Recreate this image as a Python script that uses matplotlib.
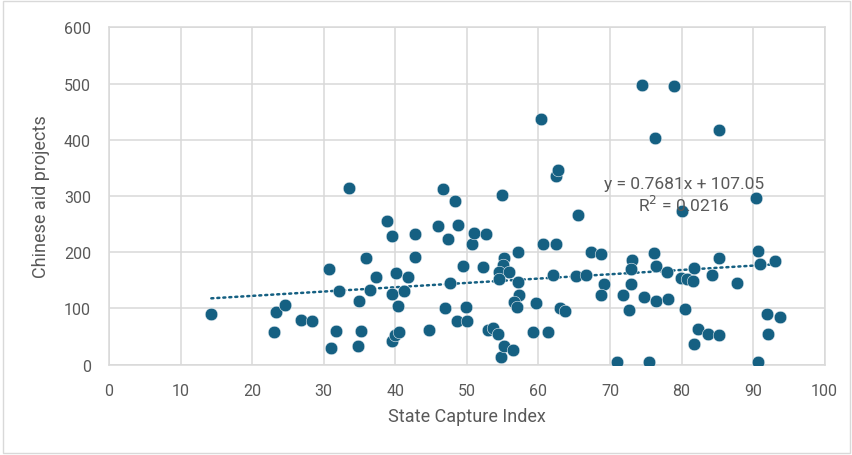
import matplotlib.pyplot as plt
from matplotlib.patches import Rectangle
import numpy as np

# State Capture Index vs number of Chinese aid projects
capture_index = [
    14.3, 23.0, 23.4, 24.6, 26.8, 28.4, 30.8, 31.0, 31.7, 32.2, 33.6, 34.8, 35.0, 35.2,
    35.9, 36.4, 37.3, 38.8, 39.6, 39.6, 40.0, 40.5, 39.5, 40.1, 40.4, 41.2, 41.8, 42.7,
    42.8, 44.7, 45.9, 46.6, 46.9, 47.3, 47.7, 48.3, 48.7, 48.6, 49.4, 49.9, 50.0, 50.7,
    51.0, 52.7, 52.3, 52.9, 53.6, 54.3, 54.8, 55.2, 56.4, 54.9, 55.2, 55.1, 54.5, 55.9,
    54.5, 57.2, 57.1, 57.3, 56.6, 57.0, 59.6, 59.2, 61.3, 60.4, 62.5, 62.8, 60.6, 62.4,
    62.0, 63.0, 63.7, 65.6, 65.2, 66.6, 67.4, 68.8, 69.2, 68.8, 71.0, 75.4, 71.8, 72.6,
    72.9, 73.1, 72.9, 74.5, 74.7, 76.1, 76.4, 76.3, 76.5, 77.9, 78.1, 79.0, 80.0, 79.9,
    80.8, 81.6, 80.5, 81.7, 82.3, 81.8, 83.7, 84.2, 85.3, 85.2, 85.3, 87.8, 90.4, 90.7,
    91.0, 90.7, 92.0, 92.1, 93.1, 93.8,
]
aid_projects = [
    90, 59, 94, 107, 80, 78, 170, 30, 60, 131, 314, 34, 114, 60,
    190, 132, 156, 255, 229, 43, 52, 59, 125, 163, 105, 131, 156, 232,
    192, 62, 246, 312, 100, 223, 145, 291, 249, 77, 176, 102, 78, 214,
    234, 233, 173, 61, 65, 54, 13, 33, 26, 301, 189, 178, 164, 164,
    152, 201, 147, 124, 111, 102, 109, 59, 58, 437, 336, 346, 214, 214,
    159, 100, 95, 267, 158, 159, 200, 197, 143, 124, 4, 5, 124, 97,
    143, 186, 170, 497, 120, 198, 176, 403, 113, 165, 116, 495, 274, 155,
    153, 148, 99, 172, 64, 36, 54, 160, 53, 418, 190, 145, 296, 203,
    179, 4, 90, 54, 184, 84,
]

# linear trendline as reported on the chart
trend_slope = 0.7681
trend_intercept = 107.05
trend_r2 = 0.0216

x_ticks = [0, 10, 20, 30, 40, 50, 60, 70, 80, 90, 100]
y_ticks = [0, 100, 200, 300, 400, 500, 600]

plt.rcParams['font.family'] = ['Roboto', 'DejaVu Sans']

marker_color = '#156082'
grid_color = '#d9d9d9'
text_color = '#595959'

fig = plt.figure(figsize=(8.53, 4.56), dpi=100, facecolor='white')
# light chart border
fig.patches.append(Rectangle((0.004, 0.004), 0.992, 0.992, transform=fig.transFigure,
                             fill=False, edgecolor=grid_color, linewidth=1.0))

ax = fig.add_axes([0.1278, 0.198, 0.839, 0.740])
ax.set_xlim(0, 100)
ax.set_ylim(0, 600)
ax.set_xticks(x_ticks)
ax.set_yticks(y_ticks)
ax.grid(True, color=grid_color, linewidth=1.1)
ax.set_axisbelow(True)
for s in ax.spines.values():
    s.set_color(grid_color)
    s.set_linewidth(1.1)
ax.tick_params(length=0, colors=text_color, labelsize=11.5)
ax.tick_params(axis='x', pad=13)
ax.tick_params(axis='y', pad=13)

ax.scatter(capture_index, aid_projects, s=82, color=marker_color,
           edgecolors='#e8eef2', linewidths=0.4, zorder=3)

# --- trendline ---
tx = np.array([min(capture_index), max(capture_index)])
ax.plot(tx, trend_slope * tx + trend_intercept, color=marker_color, linewidth=1.8,
        linestyle=(0, (0.8, 1.6)), dash_capstyle='round', zorder=2)

ax.text(80.4, 302, f"y = {trend_slope}x + {trend_intercept}\nR$^2$ = {trend_r2}",
        ha='center', va='center', fontsize=12.5, color=text_color, linespacing=1.2, zorder=4)

ax.set_xlabel("State Capture Index", fontsize=13, color=text_color, labelpad=7)
ax.set_ylabel("Chinese aid projects", fontsize=13, color=text_color, labelpad=10)

plt.savefig("out.png", dpi=100, facecolor='white')
plt.close()
